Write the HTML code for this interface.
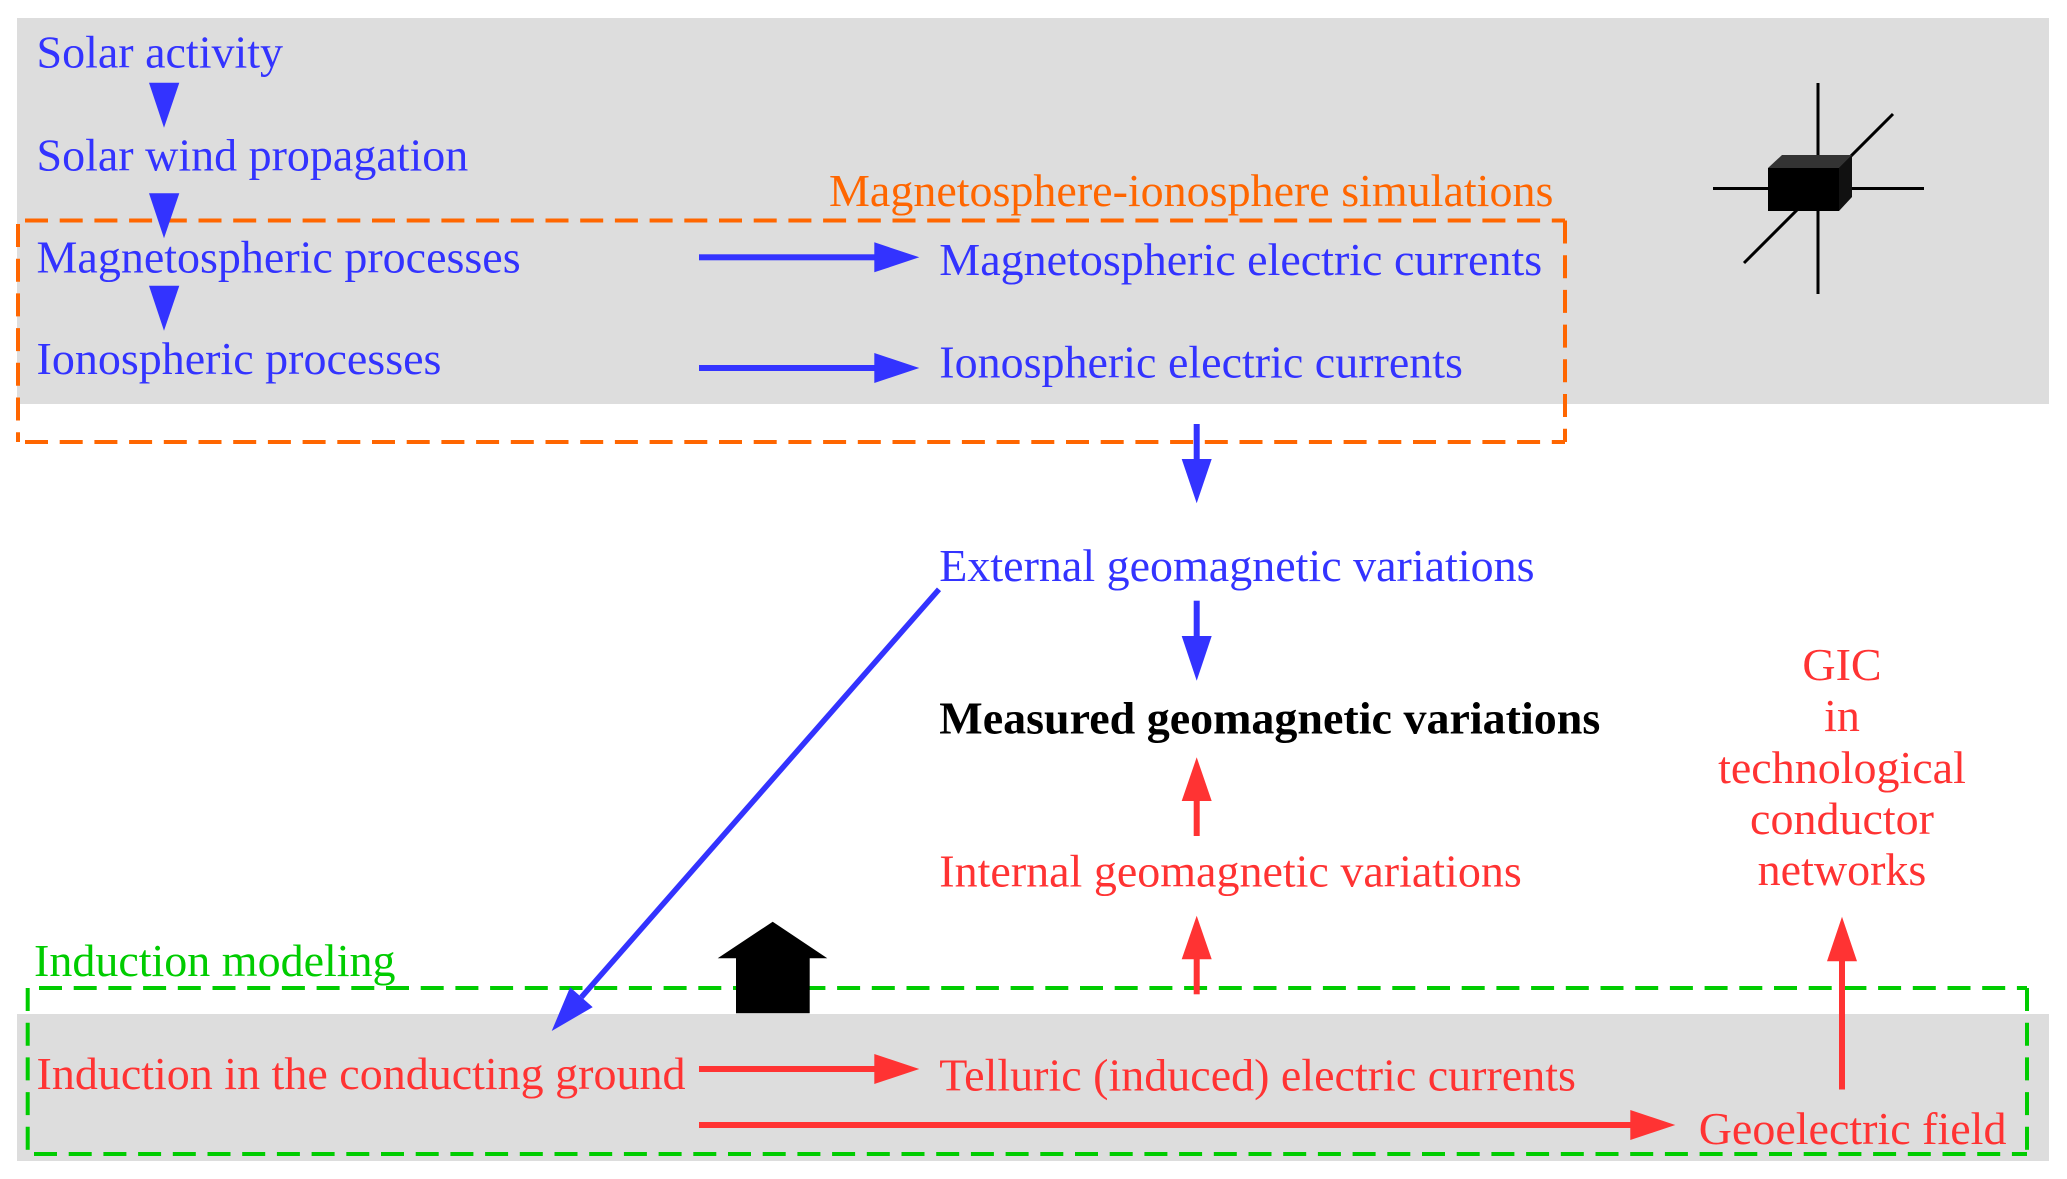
<!DOCTYPE html>
<html>
<head>
<meta charset="utf-8">
<style>
  html, body { margin:0; padding:0; background:#ffffff; }
  svg { display:block; }
  text { font-family: "Liberation Serif", "Times New Roman", serif; font-size:46px; }
</style>
</head>
<body>
<svg width="2067" height="1179" viewBox="0 0 2067 1179" xmlns="http://www.w3.org/2000/svg">
  <rect x="0" y="0" width="2067" height="1179" fill="#ffffff"/>
  <!-- grey bands -->
  <rect x="17" y="18" width="2032" height="386" fill="#dddddd"/>
  <rect x="17" y="1014" width="2032" height="147" fill="#dddddd"/>

  <!-- orange dashed box -->
  <g stroke="#ff6600" stroke-width="4" stroke-dasharray="23 11.7" fill="none">
    <line x1="25" y1="220.5" x2="1565" y2="220.5"/>
    <line x1="18" y1="442" x2="1565" y2="442" stroke-dashoffset="-7"/>
    <line x1="18" y1="224" x2="18" y2="442"/>
    <line x1="1565" y1="220.5" x2="1565" y2="442"/>
  </g>
  <text x="829" y="206" fill="#ff6600">Magnetosphere-ionosphere simulations</text>

  <!-- green dashed box -->
  <g stroke="#00cc00" stroke-width="4" stroke-dasharray="23 11.7" fill="none">
    <line x1="39" y1="988" x2="2027" y2="988"/>
    <line x1="34" y1="1154" x2="2027" y2="1154"/>
    <line x1="27.7" y1="988" x2="27.7" y2="1154"/>
    <line x1="2027" y1="988" x2="2027" y2="1154"/>
  </g>
  <text x="34" y="976" fill="#00cc00">Induction modeling</text>

  <!-- left column blue -->
  <g fill="#3333ff">
    <text x="36.5" y="67.7">Solar activity</text>
    <text x="36.5" y="170.7">Solar wind propagation</text>
    <text x="36.5" y="272.7">Magnetospheric processes</text>
    <text x="36.5" y="374">Ionospheric processes</text>
    <polygon points="149,82.7 179.3,82.7 164,127.7"/>
    <polygon points="149,193.3 179.3,193.3 164,238.3"/>
    <polygon points="149,285.7 179.3,285.7 164,330.7"/>
  </g>

  <!-- blue horizontal arrows -->
  <g fill="#3333ff" stroke="none">
    <rect x="699" y="254.3" width="177" height="6"/>
    <polygon points="874.3,242.3 919.3,257.3 874.3,272.3"/>
    <rect x="699" y="365" width="177" height="6"/>
    <polygon points="874.3,353 919.3,368 874.3,383"/>
    <text x="939.3" y="275">Magnetospheric electric currents</text>
    <text x="939.3" y="377.3">Ionospheric electric currents</text>
    <!-- down arrow to External -->
    <rect x="1193.7" y="424" width="6" height="37"/>
    <polygon points="1181.7,459 1211.7,459 1196.7,503.3"/>
    <text x="939.3" y="581">External geomagnetic variations</text>
    <!-- down arrow to Measured -->
    <rect x="1193.7" y="600.7" width="6" height="37"/>
    <polygon points="1181.7,636 1211.7,636 1196.7,680.7"/>
  </g>

  <!-- diagonal blue arrow -->
  <line x1="939" y1="589.3" x2="581.4" y2="997.2" stroke="#3333ff" stroke-width="5.5"/>
  <polygon points="551.7,1031 570.1,987.3 592.7,1007.1" fill="#3333ff"/>

  <!-- measured -->
  <text x="939.3" y="733.3" fill="#000000" font-weight="bold">Measured geomagnetic variations</text>

  <!-- red -->
  <g fill="#ff3333">
    <polygon points="1181.7,801 1211.7,801 1196.7,757.3"/>
    <rect x="1193.7" y="799" width="6" height="37"/>
    <text x="939.3" y="886.7">Internal geomagnetic variations</text>
    <polygon points="1181.7,959.3 1211.7,959.3 1196.7,915.7"/>
    <rect x="1193.7" y="957" width="6" height="37.3"/>

    <text x="36.5" y="1089">Induction in the conducting ground</text>
    <rect x="699" y="1066" width="177" height="6"/>
    <polygon points="874.3,1054 919.3,1069 874.3,1084"/>
    <text x="939.3" y="1090.7">Telluric (induced) electric currents</text>

    <rect x="699" y="1122" width="933" height="6"/>
    <polygon points="1630.3,1110 1675.3,1125 1630.3,1140"/>
    <text x="1698.7" y="1144">Geoelectric field</text>

    <rect x="1839" y="959" width="6" height="130.5"/>
    <polygon points="1827,961.2 1857,961.2 1842,916.8"/>

    <g text-anchor="middle">
      <text x="1842" y="680">GIC</text>
      <text x="1842" y="731">in</text>
      <text x="1842" y="783">technological</text>
      <text x="1842" y="834">conductor</text>
      <text x="1842" y="885">networks</text>
    </g>
  </g>

  <!-- black house arrow -->
  <polygon points="772.7,921.7 827.3,958.3 809.7,958.3 809.7,1013.3 736,1013.3 736,958.3 717.7,958.3" fill="#000000"/>

  <!-- magnetometer icon -->
  <g stroke="#000000" stroke-width="3" fill="none">
    <line x1="1818" y1="83" x2="1818" y2="294"/>
    <line x1="1713" y1="188.5" x2="1924" y2="188.5"/>
    <line x1="1744" y1="263" x2="1893" y2="114"/>
  </g>
  <polygon points="1768,168 1782,155 1852,155 1839,168" fill="#333333"/>
  <polygon points="1839,168 1852,155 1852,197 1839,211" fill="#111111"/>
  <rect x="1768" y="168" width="71" height="43" fill="#000000"/>
</svg>
</body>
</html>
